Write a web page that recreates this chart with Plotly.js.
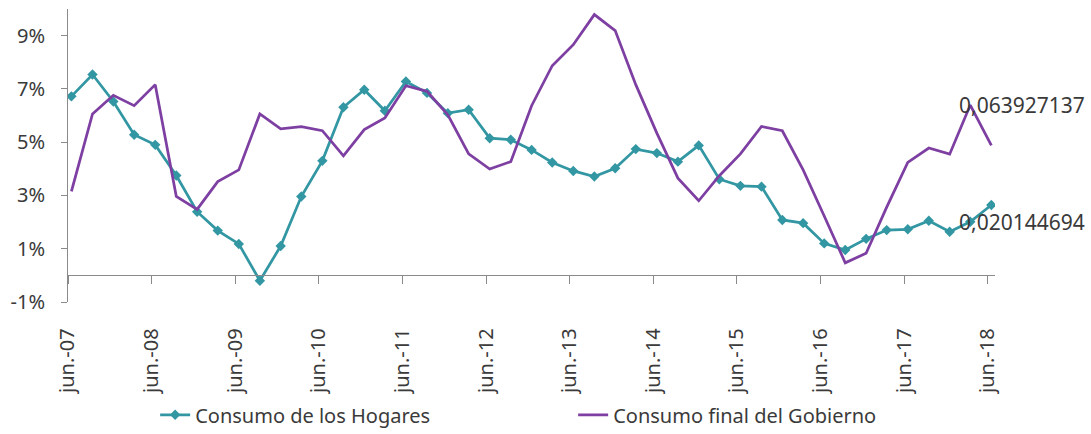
<!DOCTYPE html>
<html>
<head>
<meta charset="utf-8">
<script src="https://cdn.plot.ly/plotly-3.0.1.min.js"></script>
<style>html,body{margin:0;padding:0;background:#fff;}#chart{width:1091px;height:434px;}</style>
</head>
<body>
<div id="chart"></div>
<script>
// Quarterly periods jun.-07 ... jun.-18 (45 quarters)
const firstYear = 2007, firstMonth = 6, nQuarters = 45;
const periodos = [];
for (let i = 0; i < nQuarters; i++) {
  const m0 = firstMonth - 1 + 3 * i;
  const y = firstYear + Math.floor(m0 / 12);
  const m = (m0 % 12) + 1;
  periodos.push(y + '-' + String(m).padStart(2, '0') + '-16');
}

const hogares = [
  0.0672, 0.0754, 0.0653, 0.0528, 0.0490, 0.0375, 0.0239, 0.0168, 0.0118, -0.0020,
  0.0110, 0.0296, 0.0430, 0.0631, 0.0697, 0.0618, 0.0728, 0.0685, 0.0609, 0.0622,
  0.0515, 0.0509, 0.0471, 0.0424, 0.0392, 0.0371, 0.0402, 0.0474, 0.0459, 0.0427,
  0.0488, 0.0361, 0.0336, 0.0333, 0.0208, 0.0196, 0.0120, 0.0095, 0.0137, 0.0170,
  0.0173, 0.0205, 0.0164, 0.020144694, 0.0264
];

const gobierno = [
  0.0315, 0.0606, 0.0676, 0.0637, 0.0716, 0.0296, 0.0248, 0.0352, 0.0396, 0.0606,
  0.0550, 0.0558, 0.0543, 0.0449, 0.0547, 0.0591, 0.0712, 0.0691, 0.0603, 0.0456,
  0.0399, 0.0427, 0.0637, 0.0787, 0.0866, 0.0979, 0.0919, 0.0716, 0.0534, 0.0365,
  0.0280, 0.0374, 0.0456, 0.0559, 0.0543, 0.0396, 0.0223, 0.0047, 0.0083, 0.0256,
  0.0424, 0.0478, 0.0455, 0.063927137, 0.0488
];

const xTickVals = ['2007-06-01','2008-06-01','2009-06-01','2010-06-01','2011-06-01','2012-06-01',
                   '2013-06-01','2014-06-01','2015-06-01','2016-06-01','2017-06-01','2018-06-01'];
const xTickText = ['jun.-07','jun.-08','jun.-09','jun.-10','jun.-11','jun.-12',
                   'jun.-13','jun.-14','jun.-15','jun.-16','jun.-17','jun.-18'];
const yTickVals = [-0.01, 0.01, 0.03, 0.05, 0.07, 0.09];
const yTickText = ['-1%', '1%', '3%', '5%', '7%', '9%'];

const labelIndex = 43; // mar.-18 values shown as data labels

const FONT = 'Noto Sans, Open Sans, sans-serif';
const TXT = '#3a3a3a';
const AX = '#8a8a8a';
const TEAL = '#3297A3';
const PURPLE = '#7E3FA2';

const fmt = v => String(v).replace('.', ',');

const traces = [
  {
    x: periodos, y: hogares, name: 'Consumo de los Hogares', type: 'scatter', mode: 'lines+markers',
    line: {color: TEAL, width: 2.75},
    marker: {symbol: 'diamond', size: 8, color: TEAL}
  },
  {
    x: periodos, y: gobierno, name: 'Consumo final del Gobierno', type: 'scatter', mode: 'lines',
    line: {color: PURPLE, width: 2.75}
  }
];

const layout = {
  width: 1091, height: 434,
  margin: {l: 68, r: 96, t: 9, b: 132, autoexpand: false},
  paper_bgcolor: '#fff', plot_bgcolor: '#fff',
  font: {family: FONT, size: 20, color: TXT},
  showlegend: true,
  legend: {
    orientation: 'h', x: 0.094, xanchor: 'left', y: -0.385, yanchor: 'middle',
    entrywidth: 373, entrywidthmode: 'pixels',
    font: {family: FONT, size: 20, color: TXT},
    bgcolor: 'rgba(0,0,0,0)'
  },
  xaxis: {
    type: 'date',
    range: ['2007-06-01', '2018-07-02'],
    anchor: 'free', position: 1 / 11,
    showgrid: false, zeroline: false,
    showline: true, linecolor: AX, linewidth: 1,
    ticks: 'outside', ticklen: 8, tickcolor: AX, tickwidth: 1,
    tickmode: 'array', tickvals: xTickVals, ticktext: xTickText,
    tickangle: -90, ticklabelstandoff: 36,
    tickfont: {family: FONT, size: 20, color: TXT}
  },
  yaxis: {
    range: [-0.01, 0.10],
    showgrid: false, zeroline: false,
    showline: true, linecolor: AX, linewidth: 1,
    ticks: 'outside', ticklen: 6, tickcolor: AX, tickwidth: 1,
    tickmode: 'array', tickvals: yTickVals, ticktext: yTickText,
    ticklabelstandoff: 12,
    tickfont: {family: FONT, size: 20, color: TXT}
  },
  annotations: [
    {x: periodos[labelIndex], y: gobierno[labelIndex], xref: 'x', yref: 'y',
     text: fmt(gobierno[labelIndex]), showarrow: false, xanchor: 'left', yanchor: 'middle',
     xshift: -13, font: {family: FONT, size: 21, color: TXT}},
    {x: periodos[labelIndex], y: hogares[labelIndex], xref: 'x', yref: 'y',
     text: fmt(hogares[labelIndex]), showarrow: false, xanchor: 'left', yanchor: 'middle',
     xshift: -13, font: {family: FONT, size: 21, color: TXT}}
  ]
};

Plotly.newPlot('chart', traces, layout, {displayModeBar: false, responsive: false});
</script>
</body>
</html>
